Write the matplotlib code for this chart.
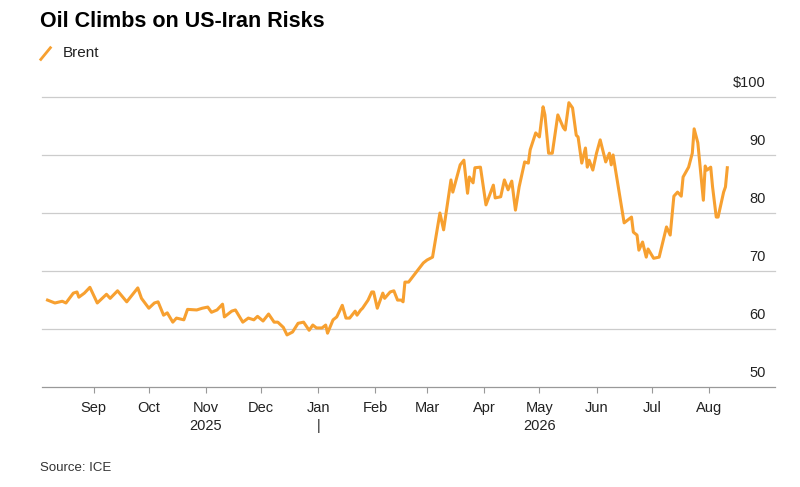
import matplotlib
matplotlib.use("Agg")
import matplotlib.pyplot as plt
import numpy as np
import datetime as dt

plt.rcParams['font.family'] = ['Liberation Sans', 'DejaVu Sans']

# day offsets relative to 2026-01-01
days = [-147,-143,-139,-137,-133,-131,-130,-127,-124,-120,-115,-113,-109,-104,-98,-96,-92,-89,-87,-84,-82,-79,-77,-73,-71,-66,-63,-60,-58,-55,-52,-51,-47,-45,-42,-41,-38,-35,-33,-30,-27,-24,-22,-19,-17,-14,-11,-8,-5,-3,-1,2,4,5,8,10,13,15,17,20,21,23,24,27,29,30,32,35,36,39,41,43,45,46,47,49,57,59,
        62,66,68,72,73,77,79,81,82,84,85,88,91,95,96,99,101,103,105,107,109,112,114,115,118,120,122,123,125,127,130,133,134,136,138,140,141,143,145,146,147,149,151,153,156,158,159,160,166,170,171,173,174,176,178,179,182,185,189,191,193,195,197,198,201,203,204,206,209,210,211,213,214,216,217,220,221,222]
brent = [65.0,64.5,64.8,64.5,66.2,66.4,65.5,66.2,67.2,64.5,66.0,65.3,66.6,64.7,67.1,65.3,63.6,64.5,64.7,62.4,62.8,61.2,61.9,61.6,63.4,63.3,63.6,63.8,62.9,63.3,64.3,62.1,63.1,63.3,61.7,61.2,61.9,61.6,62.2,61.4,62.6,61.2,61.2,60.3,59.0,59.5,61.0,61.2,59.8,60.7,60.2,60.2,60.7,59.3,61.6,62.1,64.1,61.9,61.9,63.1,62.4,63.3,63.6,65.0,66.4,66.4,63.6,66.2,65.3,66.4,66.6,65.0,65.0,64.7,68.1,68.1,71.4,
         71.9,72.4,80.0,77.1,85.7,83.6,88.3,89.1,83.4,86.2,85.2,87.8,87.9,81.4,84.8,82.6,82.8,85.7,84.0,85.5,80.5,84.5,88.8,88.6,90.9,93.8,93.1,98.3,96.9,90.3,90.3,96.9,94.7,94.3,99.0,98.1,93.4,93.1,88.6,91.2,87.9,89.1,87.4,90.3,92.6,88.8,90.3,88.3,90.0,78.3,79.3,76.7,76.2,73.6,75.0,72.4,73.8,72.2,72.4,77.6,76.2,82.9,83.6,82.9,86.2,87.9,90.3,94.5,92.1,82.2,88.1,87.4,87.9,84.5,79.3,79.3,83.6,84.5,87.8]

months = ['Sep','Oct','Nov','Dec','Jan','Feb','Mar','Apr','May','Jun','Jul','Aug']
month_dates = ['2025-09-01','2025-10-01','2025-11-01','2025-12-01','2026-01-01','2026-02-01','2026-03-01','2026-04-01','2026-05-01','2026-06-01','2026-07-01','2026-08-01']
yticks = [50, 60, 70, 80, 90, 100]
ylabels = ['50','60','70','80','90','$100']

base = dt.date(2026,1,1)
def off(s):
    return (dt.date.fromisoformat(s) - base).days

fig = plt.figure(figsize=(8, 4.87), dpi=100)
ax = fig.add_axes([0.0525, 0.205, 0.9165, 0.596])
ax.plot(days, brent, color='#f7a030', lw=2.2, solid_joinstyle='round')
ax.set_xlim(-150, 248)
ax.set_ylim(50, 100)
for v, l in zip(yticks, ylabels):
    ax.axhline(v, color='#cccccc' if v != 50 else '#999999', lw=0.9, zorder=0, clip_on=False)
    ax.text(243, v + 1.2, l, ha='right', va='bottom', fontsize=10.5, color='#222222')
for s in ax.spines.values():
    s.set_visible(False)
ax.set_yticks([])
mt = [off(d) for d in month_dates]
ax.set_xticks(mt)
ax.set_xticklabels(months, fontsize=10.5, color='#222222')
ax.tick_params(axis='x', length=4, color='#999999', pad=6)
ax.text(off('2025-11-01'), -0.11, '2025', transform=ax.get_xaxis_transform(), ha='center', va='top', fontsize=10.5, color='#222222')
ax.text(off('2026-05-01'), -0.11, '2026', transform=ax.get_xaxis_transform(), ha='center', va='top', fontsize=10.5, color='#222222')
ax.text(off('2026-01-01'), -0.11, '|', transform=ax.get_xaxis_transform(), ha='center', va='top', fontsize=10.5, color='#222222')

fig.text(0.05, 0.955, 'Oil Climbs on US-Iran Risks', fontsize=15.5, fontweight='bold', va='center', color='#000000')
fig.lines.append(plt.Line2D([0.051, 0.063], [0.878, 0.902], transform=fig.transFigure, color='#f7a030', lw=2))
fig.text(0.078, 0.892, 'Brent', fontsize=11, va='center', color='#222222')
fig.text(0.05, 0.04, 'Source: ICE', fontsize=9.5, va='center', color='#333333')
fig.savefig('out.png', dpi=100)
